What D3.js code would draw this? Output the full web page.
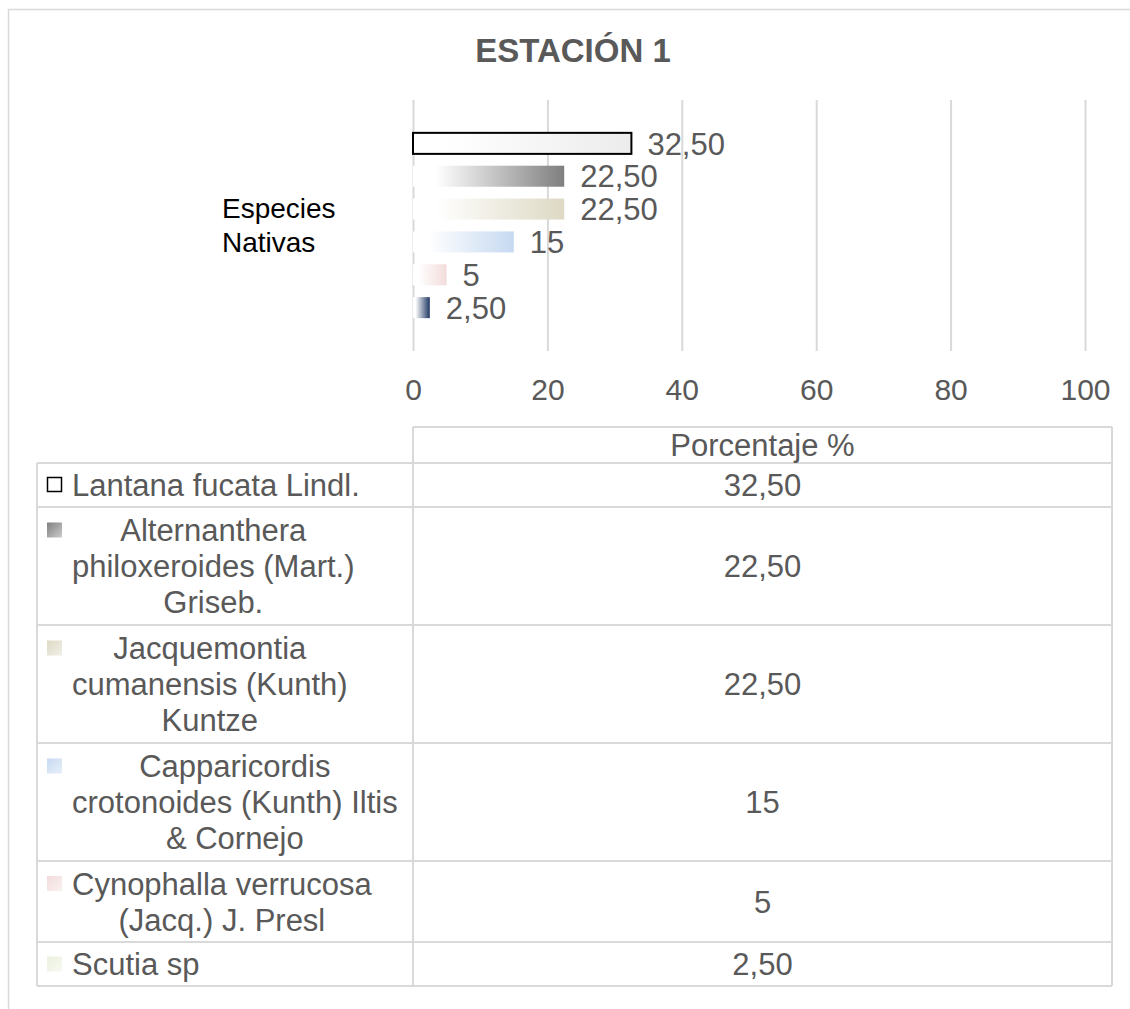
<!DOCTYPE html>
<html>
<head>
<meta charset="utf-8">
<script src="https://cdn.jsdelivr.net/npm/d3@7"></script>
<style>
  html, body { margin: 0; padding: 0; background: #fff; }
  svg { display: block; font-family: "Liberation Sans", Arial, sans-serif; }
</style>
</head>
<body>
<svg id="chart" width="1130" height="1009"></svg>
<script>
// Station 1 native species, percentage of records
const title = "ESTACIÓN 1";
const groupLabel = ["Especies", "Nativas"];
const species = [
  "Lantana fucata Lindl.",
  "Alternanthera philoxeroides (Mart.) Griseb.",
  "Jacquemontia cumanensis (Kunth) Kuntze",
  "Capparicordis crotonoides (Kunth) Iltis & Cornejo",
  "Cynophalla verrucosa (Jacq.) J. Presl",
  "Scutia sp"
];
const percentages = [32.5, 22.5, 22.5, 15, 5, 2.5];
const xTicks = [0, 20, 40, 60, 80, 100];
const valueHeader = "Porcentaje %";

// fill styles per series: bar gradient end colour and legend key colour
const barColors = ["#ececec", "#7f7f7f", "#ddd9c4", "#c6d9f1", "#f2dcdb", "#1f3864"];
const keyColors = ["#ffffff", "#7f7f7f", "#ddd9c4", "#c6d9f1", "#f2dcdb", "#ebf1de"];

const fmt = v => Number.isInteger(v) ? String(v) : v.toFixed(2).replace(".", ",");

const svg = d3.select("#chart");
const grey = "#595959", rule = "#d9d9d9";

// chart frame
svg.append("rect")
  .attr("x", 8.5).attr("y", 9.5).attr("width", 1300).attr("height", 1200)
  .attr("fill", "none").attr("stroke", rule).attr("stroke-width", 1.5);

svg.append("text")
  .attr("x", 573).attr("y", 62)
  .attr("text-anchor", "middle")
  .attr("font-size", 33).attr("font-weight", "bold").attr("fill", grey)
  .text(title);

// gradients
const defs = svg.append("defs");
barColors.forEach((c, i) => {
  const g = defs.append("linearGradient").attr("id", "bar" + i)
    .attr("x1", 0).attr("y1", 0).attr("x2", 1).attr("y2", 0);
  g.append("stop").attr("offset", "0%").attr("stop-color", "#ffffff");
  g.append("stop").attr("offset", "15%").attr("stop-color", "#ffffff");
  g.append("stop").attr("offset", "100%").attr("stop-color", c);
});
keyColors.forEach((c, i) => {
  const g = defs.append("linearGradient").attr("id", "key" + i)
    .attr("x1", 0).attr("y1", 0).attr("x2", 1).attr("y2", 1);
  g.append("stop").attr("offset", "0%").attr("stop-color", c);
  g.append("stop").attr("offset", "100%").attr("stop-color", d3.interpolateRgb(c, "#ffffff")(0.6));
});

// scales
const plotTop = 100, plotBottom = 351;
const x = d3.scaleLinear().domain([0, 100]).range([413, 1085]);
const y = d3.scaleBand().domain(species).range([plotTop, plotBottom])
  .paddingInner(0.36).paddingOuter(1.0);

// vertical gridlines + tick labels
const axis = svg.append("g")
  .attr("transform", `translate(0,${plotBottom})`)
  .call(d3.axisBottom(x).tickValues(xTicks).tickSize(-(plotBottom - plotTop)).tickFormat(d => d));
axis.select(".domain").remove();
axis.selectAll(".tick line").attr("stroke", rule).attr("stroke-width", 2);
axis.selectAll(".tick text")
  .attr("fill", grey).attr("font-size", 30)
  .attr("font-family", "Liberation Sans, Arial, sans-serif")
  .attr("dy", 0).attr("y", 49);

// category label
svg.append("text")
  .attr("x", 222).attr("y", 218)
  .attr("font-size", 28).attr("fill", "#000")
  .selectAll("tspan").data(groupLabel).join("tspan")
  .attr("x", 222).attr("dy", (d, i) => i === 0 ? 0 : 34)
  .text(d => d);

// bars
svg.append("g").selectAll("rect").data(species).join("rect")
  .attr("x", x(0))
  .attr("y", d => y(d))
  .attr("width", (d, i) => x(percentages[i]) - x(0))
  .attr("height", y.bandwidth())
  .attr("fill", (d, i) => `url(#bar${i})`)
  .attr("stroke", (d, i) => i === 0 ? "#000" : "none")
  .attr("stroke-width", 2);

// value labels
svg.append("g").selectAll("text").data(species).join("text")
  .attr("x", (d, i) => x(percentages[i]) + 16)
  .attr("y", d => y(d) + y.bandwidth() / 2)
  .attr("dy", "0.36em")
  .attr("font-size", 31).attr("fill", grey)
  .text((d, i) => fmt(percentages[i]));

// data table
const tblLeft = 37, tblMid = 413, tblRight = 1112, headTop = 427, headBottom = 463;
const lineH = 36, textLeft = 72, wrapW = 338, fs = 31;

// measure-and-wrap helper
const probe = svg.append("text").attr("font-size", fs).attr("visibility", "hidden");
const measure = s => { probe.text(s); return probe.node().getComputedTextLength(); };
function wrap(label) {
  const words = label.split(" ");
  const lines = [];
  let cur = "";
  words.forEach(w => {
    const t = cur ? cur + " " + w : w;
    if (cur && measure(t) > wrapW) { lines.push(cur); cur = w; } else cur = t;
  });
  lines.push(cur);
  return lines;
}
const wrapped = species.map(wrap);
const blockWidths = wrapped.map(lines => d3.max(lines, measure));
probe.remove();

const rowH = wrapped.map(l => l.length === 1 ? 44 : 37 * l.length + 7);
const rowTop = [];
rowH.reduce((acc, h, i) => { rowTop[i] = acc; return acc + h; }, headBottom);
const tblBottom = rowTop[rowTop.length - 1] + rowH[rowH.length - 1];

const tbl = svg.append("g");
const line = (x1, y1, x2, y2) => tbl.append("line")
  .attr("x1", x1).attr("y1", y1).attr("x2", x2).attr("y2", y2)
  .attr("stroke", rule).attr("stroke-width", 2);

line(tblMid, headTop, tblRight, headTop);
line(tblMid, headTop, tblMid, tblBottom);
line(tblRight, headTop, tblRight, tblBottom);
line(tblLeft, headBottom, tblLeft, tblBottom);
line(tblLeft, headBottom, tblRight, headBottom);
rowTop.forEach((t, i) => line(tblLeft, t + rowH[i], tblRight, t + rowH[i]));

tbl.append("text")
  .attr("x", (tblMid + tblRight) / 2).attr("y", (headTop + headBottom) / 2)
  .attr("dy", "0.36em").attr("text-anchor", "middle")
  .attr("font-size", fs).attr("fill", grey)
  .text(valueHeader);

species.forEach((s, i) => {
  const lines = wrapped[i];
  const top = rowTop[i], h = rowH[i];
  const firstCenter = top + h / 2 - (lines.length - 1) * lineH / 2;
  // legend key
  tbl.append("rect")
    .attr("x", i === 0 ? 47.5 : 47).attr("y", firstCenter - 7.5)
    .attr("width", i === 0 ? 14 : 15).attr("height", i === 0 ? 14 : 15)
    .attr("fill", `url(#key${i})`)
    .attr("stroke", i === 0 ? "#000" : "none").attr("stroke-width", 1.5);
  // species name, lines centred on the widest line
  tbl.append("text")
    .attr("font-size", fs).attr("fill", grey).attr("text-anchor", "middle")
    .selectAll("tspan").data(lines).join("tspan")
    .attr("x", textLeft + blockWidths[i] / 2)
    .attr("y", (d, k) => firstCenter + k * lineH)
    .attr("dy", "0.36em")
    .text(d => d);
  // value
  tbl.append("text")
    .attr("x", (tblMid + tblRight) / 2).attr("y", top + h / 2)
    .attr("dy", "0.36em").attr("text-anchor", "middle")
    .attr("font-size", fs).attr("fill", grey)
    .text(fmt(percentages[i]));
});
</script>
</body>
</html>
